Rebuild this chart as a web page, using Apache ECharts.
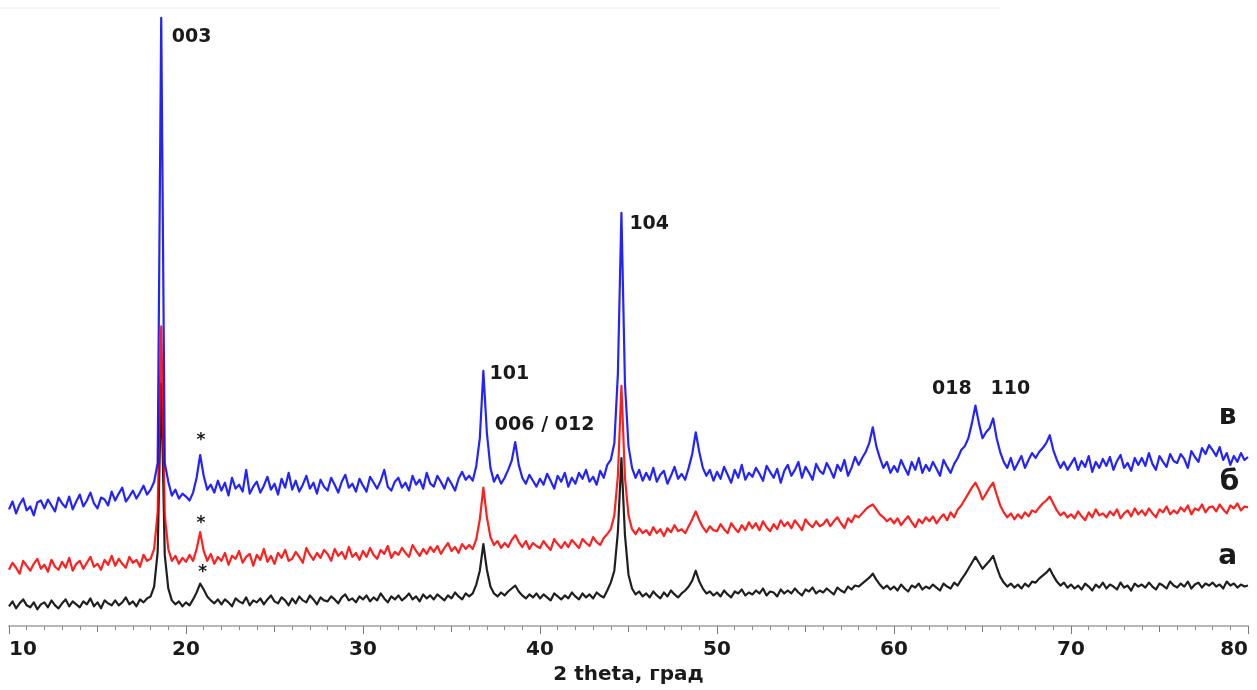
<!DOCTYPE html>
<html><head><meta charset="utf-8">
<script src="https://cdn.jsdelivr.net/npm/echarts@6/dist/echarts.min.js"></script>
<style>html,body{margin:0;padding:0;background:#fff}#c{width:1257px;height:690px}</style>
</head><body><div id="c"></div>
<script>
// 2θ sampling grid of the scans (degrees)
const thetaStart = 10, thetaStep = 0.2;
const xTickLabels = [10, 20, 30, 40, 50, 60, 70, 80];

// curve "а" (black)
const intensityA = [
20,25,18,23,27,21,19,24,17,22,
24,19,26,21,18,23,27,20,25,22,
19,25,22,28,20,24,18,26,23,21,
26,21,24,29,22,25,20,27,24,28,
30,40,75,245,72,38,26,22,25,20,
24,21,27,34,43,37,30,26,23,27,
22,27,24,20,28,25,23,29,21,26,
24,28,22,27,31,25,23,29,26,21,
28,23,30,26,24,31,27,22,29,26,
25,30,27,23,29,32,26,28,24,30,
27,31,25,29,26,33,28,24,30,27,
31,26,29,33,27,30,25,32,28,31,
27,32,29,26,31,28,34,30,27,33,
30,33,42,56,83,57,40,33,30,34,
31,35,38,41,35,31,28,32,29,33,
28,32,29,26,33,30,27,31,28,34,
30,27,33,29,32,28,34,31,29,36,
44,56,95,170,92,52,38,32,35,30,
33,29,35,31,28,34,30,36,32,29,
33,36,40,46,56,45,38,33,35,31,
34,30,36,32,29,35,33,37,31,34,
32,36,33,38,31,35,34,30,37,33,
36,33,38,34,31,37,35,39,33,36,
34,38,35,32,39,36,34,40,37,41,
40,43,46,49,53,47,42,38,41,37,
40,36,42,38,35,41,39,43,37,40,
38,42,39,36,43,40,38,44,41,47,
52,58,64,70,64,58,62,66,71,60,
50,44,40,43,39,42,38,43,40,45,
44,48,51,54,58,51,45,41,44,39,
42,38,41,37,43,40,36,42,39,44,
38,42,40,37,44,39,41,36,43,40,
42,39,44,40,37,43,41,38,45,41,
39,43,40,45,38,42,44,39,43,41,
44,40,42,38,45,41,43,39,42,40,
41];

// curve "б" (red)
const intensityB = [
57,64,59,53,66,61,56,63,68,58,
62,55,67,60,57,65,59,69,56,63,
66,58,64,70,60,63,57,67,62,71,
61,68,63,59,70,64,67,60,72,66,
68,78,115,303,112,78,66,71,63,69,
65,72,66,78,95,76,66,73,63,70,
66,74,62,71,68,76,64,70,73,61,
72,67,78,65,71,63,74,69,77,66,
68,75,70,64,79,72,67,74,69,77,
73,66,78,71,75,68,80,70,74,67,
76,70,79,72,68,77,73,81,69,75,
72,79,74,70,82,76,71,78,73,80,
75,81,73,79,84,76,80,74,83,78,
82,78,88,108,140,110,90,82,86,79,
84,80,87,92,85,80,86,78,84,81,
79,86,81,77,88,83,79,85,80,87,
83,79,88,84,81,90,85,82,89,93,
98,112,152,243,150,112,98,93,99,94,
97,92,100,94,98,91,99,95,102,96,
98,94,101,108,116,107,100,95,101,97,
96,103,98,94,104,99,95,102,97,105,
99,104,97,106,100,96,103,98,107,101,
105,99,107,102,97,108,103,100,106,101,
103,108,101,106,110,104,99,109,105,112,
110,114,118,121,123,118,113,110,106,109,
104,109,102,107,111,105,100,108,104,110,
106,111,104,109,113,107,115,110,118,122,
128,134,140,145,138,128,134,140,145,133,
122,115,110,114,108,113,109,115,111,117,
115,120,124,127,131,124,117,112,115,110,
113,109,116,111,107,115,110,118,112,114,
110,116,112,118,109,114,117,111,119,113,
117,112,119,114,110,118,115,121,113,117,
114,120,116,122,113,119,117,123,115,120,
121,116,123,118,114,122,119,124,117,121,
120];

// curve "в" (blue)
const intensityV = [
118,126,114,123,129,117,121,112,125,127,
119,128,122,116,130,124,120,131,118,126,
133,121,127,135,124,119,130,128,122,136,
127,134,140,126,131,137,129,135,142,133,
138,146,165,615,165,146,132,138,129,134,
131,127,135,150,173,152,138,143,135,147,
137,145,132,150,139,143,136,158,134,141,
146,135,142,151,138,144,133,149,140,155,
138,147,136,143,152,139,145,134,148,141,
137,150,143,135,146,153,140,144,136,149,
142,136,151,145,139,147,158,141,137,146,
150,140,145,137,152,143,148,139,155,144,
141,152,146,139,150,144,137,149,156,148,
152,147,162,190,258,195,160,146,153,144,
150,158,167,186,163,150,144,153,147,141,
149,143,154,147,139,152,146,155,141,150,
144,155,149,158,146,151,143,157,150,163,
168,185,255,418,245,182,160,150,158,147,
155,148,160,146,153,157,144,152,161,149,
154,148,160,174,196,176,160,152,158,147,
156,149,161,153,145,158,150,163,148,155,
151,160,154,147,162,156,150,159,145,157,
163,152,158,166,150,161,155,148,164,157,
154,165,158,150,163,157,168,152,160,171,
163,170,176,185,201,182,170,160,166,155,
162,156,168,160,153,166,158,170,155,163,
157,166,159,152,168,161,155,164,170,178,
182,190,205,223,205,190,196,200,210,190,
176,166,160,170,158,165,172,160,168,175,
170,176,180,185,193,178,168,160,166,158,
164,170,158,167,161,172,156,166,160,169,
162,171,158,167,173,160,165,157,170,163,
170,162,175,164,158,172,166,161,174,167,
165,174,169,160,177,171,166,180,174,183,
178,172,181,168,175,163,172,166,175,168,
171];

// reflection labels: [text, 2θ, intensity] (left edge, vertical middle)
const peakLabels = [
  ['003', 19.2, 596],
  ['101', 37.15, 255],
  ['006 / 012', 37.45, 203],
  ['104', 45.05, 407],
  ['018', 62.15, 240],
  ['110', 65.45, 240]
];
// impurity marks: [2θ, intensity]
const starMarks = [[20.85, 188], [20.85, 104], [20.95, 54]];
// curve names: [text, 2θ, intensity]
const curveLabels = [['в', 78.85, 212], ['б', 78.95, 145], ['а', 78.85, 70]];

const toPairs = arr => arr.map((v, i) => [+(thetaStart + i * thetaStep).toFixed(1), v]);

const chart = echarts.init(document.getElementById('c'), null, {renderer: 'canvas'});
const FONT = 'DejaVu Sans';
const lineSeries = (name, data, color) => ({
  name, type: 'line', data: toPairs(data), showSymbol: false, symbol: 'none',
  xAxisIndex: 0, yAxisIndex: 0,
  lineStyle: {color, width: 2.2, opacity: 0.88, join: 'round'}, itemStyle: {color},
  emphasis: {disabled: true}, animation: false, z: 2
});

chart.setOption({
  animation: false,
  backgroundColor: '#ffffff',
  grid: {left: 9, right: 9, top: 10, bottom: 57, containLabel: false},
  xAxis: [{
    type: 'value', min: 10, max: 80, interval: 10,
    position: 'bottom',
    name: '2 theta, град', nameLocation: 'middle', nameGap: 36,
    nameTextStyle: {fontFamily: FONT, fontWeight: 'bold', fontSize: 20, color: '#1a1a1a'},
    axisLine: {show: true, lineStyle: {color: '#b8b8b8', width: 2}},
    axisTick: {show: true, length: 8, lineStyle: {color: '#777', width: 1}},
    minorTick: {show: true, splitNumber: 10, length: 4, lineStyle: {color: '#888', width: 1}},
    axisLabel: {
      show: true, margin: 14, fontFamily: FONT, fontWeight: 'bold', fontSize: 20, color: '#1a1a1a',
      alignMinLabel: 'left', alignMaxLabel: 'right',
      formatter: v => xTickLabels.includes(v) ? String(v) : ''
    },
    splitLine: {show: false}
  }, {
    type: 'value', min: 10, max: 80, interval: 5, gridIndex: 0, position: 'bottom',
    axisLine: {show: false}, axisLabel: {show: false}, splitLine: {show: false},
    axisTick: {show: true, length: 6, lineStyle: {color: '#777', width: 1}}
  }],
  yAxis: {type: 'value', min: 0, max: 623, show: false, splitLine: {show: false}},
  series: [
    lineSeries('а', intensityA, '#000000'),
    lineSeries('б', intensityB, '#ff0000'),
    lineSeries('в', intensityV, '#0505ff')
  ]
});

const px = (t, v) => chart.convertToPixel({xAxisIndex: 0, yAxisIndex: 0}, [t, v]);
const graphics = [];
graphics.push({type: 'line', shape: {x1: 0, y1: 8, x2: 1000, y2: 8}, style: {stroke: '#eeeeee', lineWidth: 1}, silent: true});
peakLabels.forEach(([t, x, v]) => {
  const p = px(x, v);
  graphics.push({type: 'text', x: p[0], y: p[1], silent: true, z: 10,
    style: {text: t, fontFamily: FONT, fontWeight: 'bold', fontSize: 19, fill: '#1a1a1a', textAlign: 'left', textVerticalAlign: 'middle'}});
});
starMarks.forEach(([x, v]) => {
  const p = px(x, v);
  graphics.push({type: 'text', x: p[0], y: p[1], silent: true, z: 10,
    style: {text: '*', fontFamily: FONT, fontWeight: 'bold', fontSize: 17, fill: '#1a1a1a', textAlign: 'center', textVerticalAlign: 'middle'}});
});
curveLabels.forEach(([t, x, v]) => {
  const p = px(x, v);
  graphics.push({type: 'text', x: p[0], y: p[1], silent: true, z: 10,
    style: {text: t, fontFamily: FONT, fontWeight: 'bold', fontSize: 28, fill: '#1a1a1a', textAlign: 'center', textVerticalAlign: 'middle'}});
});
chart.setOption({graphic: graphics});
</script>
</body></html>
